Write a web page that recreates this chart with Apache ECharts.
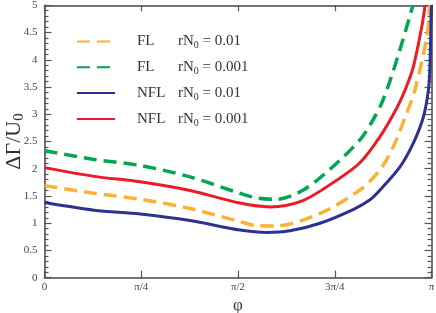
<!DOCTYPE html>
<html>
<head>
<meta charset="utf-8">
<script src="https://cdn.jsdelivr.net/npm/echarts@6/dist/echarts.min.js"></script>
<style>html,body{margin:0;padding:0;background:#fff}#c{width:436px;height:313px}</style>
</head>
<body>
<div id="c"></div>
<script>
// x values are φ/π
var xTickLabels = ['0', 'π/4', 'π/2', '3π/4', 'π'];
var seriesNames = ['FL 0.01', 'FL 0.001', 'NFL 0.01', 'NFL 0.001'];
var legendKind = ['FL', 'FL', 'NFL', 'NFL'];
var legendR = ['0.01', '0.001', '0.01', '0.001'];

var flR01 = [[0,1.69],[0.128,1.55],[0.247,1.44],[0.376,1.27],[0.505,1.03],[0.548,0.955],[0.596,0.95],[0.712,1.18],[0.815,1.61],[0.867,1.98],[0.901,2.40],[0.936,3.02],[0.957,3.44],[0.988,4.42],[0.996,4.97],[0.997,5.0]];
var flR001 = [[0,2.33],[0.128,2.17],[0.247,2.06],[0.376,1.85],[0.505,1.55],[0.552,1.46],[0.600,1.44],[0.669,1.61],[0.755,2.10],[0.815,2.53],[0.841,2.80],[0.871,3.20],[0.893,3.62],[0.919,4.20],[0.944,4.80],[0.952,5.0]];
var nflR01 = [[0,1.38],[0.128,1.24],[0.247,1.17],[0.376,1.05],[0.505,0.875],[0.574,0.83],[0.634,0.86],[0.712,1.00],[0.800,1.26],[0.841,1.43],[0.867,1.61],[0.919,2.04],[0.953,2.47],[0.979,2.95],[0.992,3.44],[0.996,3.87],[0.999,4.79],[1.0,5.0]];
var nflR001 = [[0,2.02],[0.128,1.86],[0.247,1.76],[0.376,1.60],[0.505,1.37],[0.583,1.30],[0.669,1.42],[0.755,1.79],[0.815,2.11],[0.867,2.59],[0.910,3.11],[0.932,3.45],[0.953,3.87],[0.975,4.61],[0.983,4.97],[0.984,5.0]];

var dataSets = [flR01, flR001, nflR01, nflR001];
var colors = ['#F9B233', '#00A651', '#2E3192', '#ED1C24'];
var dashed = [true, true, false, false];

var chart = echarts.init(document.getElementById('c'), null, {renderer: 'canvas'});
var serif = '"Liberation Serif", "DejaVu Serif", serif';

var series = dataSets.map(function (d, i) {
  return {
    name: seriesNames[i],
    type: 'line',
    data: d,
    symbol: 'none',
    smooth: 0.3,
    clip: true,
    lineStyle: {color: colors[i], width: dashed[i] ? 3.5 : 3, type: dashed[i] ? [13, 7] : 'solid'},
    itemStyle: {color: colors[i]}
  };
});

var axisLineStyle = {color: '#444', width: 1.5};
var tickStyle = {color: '#555', width: 1.2};

chart.setOption({
  animation: false,
  grid: {left: 44.5, right: 4.5, top: 5.3, bottom: 35.3, containLabel: false, outerBoundsMode: 'none'},
  legend: {
    orient: 'vertical',
    left: 76,
    top: 34,
    padding: 0,
    itemWidth: 38,
    itemHeight: 14,
    itemGap: 9.3,
    data: seriesNames,
    itemStyle: {opacity: 0},
    formatter: function (name) {
      var i = seriesNames.indexOf(name);
      return '{a|' + legendKind[i] + '}{b|rN}{s|0}{b| = ' + legendR[i] + '}';
    },
    textStyle: {
      fontFamily: serif, fontSize: 15, color: '#333',
      rich: {
        a: {fontFamily: serif, fontSize: 15, color: '#333', width: 41, padding: [0, 0, 0, 17]},
        b: {fontFamily: serif, fontSize: 15, color: '#333'},
        s: {fontFamily: serif, fontSize: 10, color: '#333', verticalAlign: 'bottom', padding: [8, 0, 0, 0]}
      }
    }
  },
  xAxis: [{
    type: 'value', min: 0, max: 1, interval: 0.25,
    name: 'φ', nameLocation: 'middle', nameGap: 19, nameMoveOverlap: false,
    nameTextStyle: {fontFamily: serif, fontSize: 17, color: '#333'},
    axisLine: {show: true, onZero: false, lineStyle: axisLineStyle},
    axisTick: {show: true, inside: true, length: 7, lineStyle: tickStyle},
    axisLabel: {
      fontFamily: serif, fontSize: 11, color: '#444', margin: 4,
      formatter: function (v) { return xTickLabels[Math.round(v / 0.25)]; }
    },
    splitLine: {show: false}
  }, {
    type: 'value', min: 0, max: 1, interval: 0.25, position: 'top',
    axisLine: {show: true, onZero: false, lineStyle: axisLineStyle},
    axisTick: {show: true, inside: true, length: 6, lineStyle: tickStyle},
    axisLabel: {show: false},
    splitLine: {show: false}
  }],
  yAxis: [{
    type: 'value', min: 0, max: 5, interval: 0.5,
    name: '{a|ΔΓ/U}{s|0}', nameLocation: 'middle', nameGap: 18, nameRotate: 90, nameMoveOverlap: false,
    nameTextStyle: {
      fontFamily: serif, fontSize: 22, color: '#333',
      rich: {
        a: {fontFamily: serif, fontSize: 22, color: '#333'},
        s: {fontFamily: serif, fontSize: 15, color: '#333', verticalAlign: 'bottom', padding: [10, 0, 0, 0]}
      }
    },
    axisLine: {show: true, onZero: false, lineStyle: axisLineStyle},
    axisTick: {show: true, inside: true, length: 7, lineStyle: tickStyle},
    minorTick: {show: true, splitNumber: 5, length: 4, lineStyle: tickStyle},
    axisLabel: {fontFamily: serif, fontSize: 11, color: '#444', margin: 7},
    splitLine: {show: false}
  }, {
    type: 'value', min: 0, max: 5, interval: 0.5, position: 'right',
    axisLine: {show: true, onZero: false, lineStyle: axisLineStyle},
    axisTick: {show: true, inside: true, length: 7, lineStyle: tickStyle},
    minorTick: {show: true, splitNumber: 5, length: 4, lineStyle: tickStyle},
    axisLabel: {show: false},
    splitLine: {show: false}
  }],
  series: series
});
</script>
</body>
</html>
